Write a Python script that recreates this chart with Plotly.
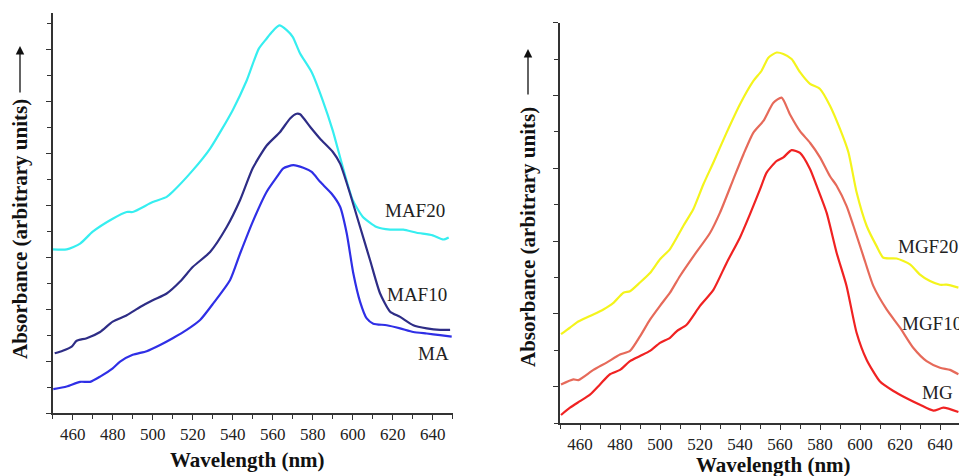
import plotly.graph_objects as go

# ---- Left panel data (wavelength nm, absorbance arbitrary units) ----
maf20_x = [450, 457, 463.7, 470, 480, 487, 490, 500, 507, 510, 520, 528.7, 540, 547, 553, 557, 559.5, 563.3, 567, 570, 573.7, 579.5, 585, 590, 595, 600, 605, 612, 618.7, 625.3, 632, 640, 645.3, 648]
maf20_y = [3.15, 3.15, 3.26, 3.49, 3.74, 3.87, 3.87, 4.06, 4.16, 4.26, 4.67, 5.09, 5.83, 6.40, 7.01, 7.21, 7.33, 7.46, 7.37, 7.24, 6.92, 6.56, 6.02, 5.44, 4.74, 4.10, 3.78, 3.58, 3.53, 3.53, 3.47, 3.42, 3.34, 3.38]

maf10_x = [451, 455, 459.5, 462, 467, 473.7, 480, 487, 493.7, 500, 507, 513.7, 520, 528.7, 537, 543.7, 550, 557, 563.7, 568.7, 572, 573.7, 578.7, 583.7, 590, 593.7, 598.7, 603.7, 608.7, 613.7, 618.7, 623.7, 630.3, 637, 643.7, 648.7]
maf10_y = [1.15, 1.20, 1.28, 1.39, 1.44, 1.56, 1.76, 1.88, 2.04, 2.17, 2.30, 2.53, 2.81, 3.10, 3.58, 4.10, 4.71, 5.15, 5.41, 5.67, 5.76, 5.75, 5.51, 5.28, 5.03, 4.80, 4.22, 3.58, 2.94, 2.30, 1.95, 1.85, 1.69, 1.63, 1.60, 1.60]

ma_x = [450.3, 457, 463.7, 468.7, 473.7, 480, 483.7, 490, 497, 503.7, 510, 517, 523.7, 530.3, 538.7, 543.7, 550, 557, 562, 565.3, 570.3, 575.3, 579.5, 583.7, 589.5, 593.7, 597, 600.3, 603.7, 607, 610.3, 617, 623.7, 630.3, 637, 643.7, 649.5]
ma_y = [0.46, 0.51, 0.60, 0.60, 0.70, 0.86, 0.99, 1.12, 1.19, 1.31, 1.44, 1.60, 1.79, 2.11, 2.56, 3.07, 3.68, 4.26, 4.54, 4.71, 4.77, 4.72, 4.64, 4.45, 4.22, 3.97, 3.46, 2.69, 2.14, 1.82, 1.72, 1.69, 1.63, 1.56, 1.53, 1.50, 1.47]

# ---- Right panel data ----
mgf20_x = [450.5, 455, 458.3, 465, 471.7, 476.7, 481.7, 485, 490, 495, 500, 505, 511.7, 516.7, 521.7, 526.7, 533.3, 540, 546.7, 550.8, 554.2, 558.3, 561.7, 565.8, 570, 575, 580, 585, 590, 594.2, 598.3, 603.3, 608.3, 611.7, 618.3, 625, 630, 635, 640, 643.3, 649.2]
mgf20_y = [1.72, 1.81, 1.88, 1.97, 2.06, 2.15, 2.29, 2.31, 2.43, 2.56, 2.75, 2.89, 3.21, 3.44, 3.78, 4.08, 4.49, 4.88, 5.20, 5.34, 5.52, 5.59, 5.57, 5.50, 5.32, 5.16, 5.09, 4.86, 4.54, 4.22, 3.67, 3.21, 2.93, 2.77, 2.76, 2.68, 2.54, 2.45, 2.40, 2.40, 2.36]

mgf10_x = [450.5, 456.7, 459.2, 466.7, 473.3, 480, 485, 490, 495, 500, 505, 510, 516.7, 525, 530, 536.7, 541.7, 546.7, 551.7, 556.7, 560.8, 565, 570, 575, 580, 585, 588.3, 593.3, 596.7, 601.7, 606.7, 613.3, 620, 626.7, 633.3, 640, 645, 649.2]
mgf10_y = [1.03, 1.10, 1.09, 1.23, 1.33, 1.44, 1.49, 1.69, 1.92, 2.11, 2.29, 2.52, 2.79, 3.11, 3.39, 3.85, 4.19, 4.49, 4.65, 4.90, 4.97, 4.74, 4.51, 4.35, 4.15, 3.89, 3.76, 3.48, 3.21, 2.79, 2.38, 2.06, 1.81, 1.53, 1.35, 1.26, 1.23, 1.17]

mg_x = [450.5, 455, 460, 465, 470, 475, 480, 485, 490, 495, 500, 505, 508.3, 513.3, 520, 526.7, 533.3, 540, 545, 550, 553.3, 558.3, 561.7, 565.8, 570, 575, 578.3, 583.3, 588.3, 593.3, 598.3, 603.3, 610, 616.7, 623.3, 630, 636.7, 641.7, 649.2]
mg_y = [0.61, 0.71, 0.80, 0.89, 1.03, 1.17, 1.23, 1.35, 1.42, 1.49, 1.60, 1.67, 1.76, 1.85, 2.11, 2.33, 2.70, 3.05, 3.37, 3.71, 3.94, 4.10, 4.15, 4.25, 4.21, 3.99, 3.76, 3.39, 2.84, 2.38, 1.74, 1.37, 1.07, 0.94, 0.84, 0.75, 0.67, 0.71, 0.65]

left_names = ["MAF20", "MAF10", "MA"]
right_names = ["MGF20", "MGF10", "MG"]
tick_vals = [460, 480, 500, 520, 540, 560, 580, 600, 620, 640]
tick_text = [str(v) for v in tick_vals]
x_title = "Wavelength (nm)"
y_title = "Absorbance (arbitrary units)"

PAGE_W, PAGE_H = 967, 476
OFF = 8  # default page body margin
W, H = PAGE_W - OFF, PAGE_H - OFF
SERIF = "Liberation Serif, Times New Roman, serif"

fig = go.Figure()
left_series = [(maf20_x, maf20_y, "#36eef0"), (maf10_x, maf10_y, "#2e2d86"), (ma_x, ma_y, "#2f2fe6")]
right_series = [(mgf20_x, mgf20_y, "#f4f41c"), (mgf10_x, mgf10_y, "#e66a5a"), (mg_x, mg_y, "#f02222")]
for (xs, ys, c), n in zip(left_series, left_names):
    fig.add_trace(go.Scatter(x=xs, y=ys, mode="lines", name=n, line=dict(color=c, width=2.2, smoothing=0.6),
                             xaxis="x", yaxis="y", line_shape="spline"))
for (xs, ys, c), n in zip(right_series, right_names):
    fig.add_trace(go.Scatter(x=xs, y=ys, mode="lines", name=n, line=dict(color=c, width=2.2, smoothing=0.6),
                             xaxis="x2", yaxis="y2", line_shape="spline"))

def px_x(p):
    return (p - OFF) / W

def px_y(p):
    return 1 - (p - OFF) / H

common_x = dict(range=[450, 650], tickmode="array", tickvals=tick_vals, ticktext=tick_text,
                ticks="outside", ticklen=5, tickwidth=1.3, tickcolor="#333",
                showline=True, linecolor="#333", linewidth=1.5, showgrid=False, zeroline=False,
                tickfont=dict(family=SERIF, size=17, color="#222"),
                minor=dict(dtick=10, tick0=450, ticks="outside", ticklen=4, tickcolor="#333", showgrid=False))
common_y = dict(showticklabels=False, ticks="outside", ticklen=5, tickwidth=1.3, tickcolor="#333",
                showline=True, linecolor="#333", linewidth=1.5, showgrid=False, zeroline=False,
                dtick=1, tick0=0,
                minor=dict(dtick=0.5, tick0=0, ticks="outside", ticklen=4, tickcolor="#333", showgrid=False))

fig.update_layout(
    width=W, height=H,
    margin=dict(l=0, r=0, t=0, b=0),
    paper_bgcolor="white", plot_bgcolor="white",
    showlegend=False,
    xaxis=dict(domain=[px_x(52.7), px_x(452.7)], anchor="y", **common_x),
    yaxis=dict(domain=[px_y(413), px_y(13)], anchor="x", range=[0, 7.7], **common_y),
    xaxis2=dict(domain=[px_x(560), px_x(960)], anchor="y2", **common_x),
    yaxis2=dict(domain=[px_y(423), px_y(22.7)], anchor="x2", range=[0.5, 6.0], **common_y),
)

annotations = []
# curve labels
lab_font = dict(family=SERIF, size=19, color="#222")
for name, (x, y) in zip(left_names, [(415, 210), (417, 294), (433, 353)]):
    annotations.append(dict(text=name, x=px_x(x), y=px_y(y), xref="paper", yref="paper",
                            showarrow=False, font=lab_font, xanchor="center", yanchor="middle"))
for name, (x, y) in zip(right_names, [(928, 247), (932, 323), (937, 392)]):
    annotations.append(dict(text=name, x=px_x(x), y=px_y(y), xref="paper", yref="paper",
                            showarrow=False, font=lab_font, xanchor="center", yanchor="middle"))

title_font = dict(family=SERIF, size=21, color="#111")
# x titles
annotations.append(dict(text="<b>%s</b>" % x_title, x=px_x(247), y=px_y(460), xref="paper", yref="paper",
                        showarrow=False, font=title_font, xanchor="center", yanchor="middle"))
annotations.append(dict(text="<b>%s</b>" % x_title, x=px_x(773), y=px_y(465), xref="paper", yref="paper",
                        showarrow=False, font=title_font, xanchor="center", yanchor="middle"))
# y titles
annotations.append(dict(text="<b>%s</b>" % y_title, x=px_x(20), y=px_y(229), xref="paper", yref="paper",
                        showarrow=False, font=title_font, textangle=-90, xanchor="center", yanchor="middle"))
annotations.append(dict(text="<b>%s</b>" % y_title, x=px_x(528), y=px_y(237), xref="paper", yref="paper",
                        showarrow=False, font=title_font, textangle=-90, xanchor="center", yanchor="middle"))
# arrows next to y titles (head position, tail offset in pixels)
for (ax_x, head_y, tail_y) in [(20, 46, 94), (528, 49, 96)]:
    annotations.append(dict(text="", x=px_x(ax_x), y=px_y(head_y), xref="paper", yref="paper",
                            ax=0, ay=tail_y - head_y, axref="pixel", ayref="pixel",
                            showarrow=True, arrowhead=2, arrowsize=1.3, arrowwidth=1.3, arrowcolor="#111"))

fig.update_layout(annotations=annotations)
fig.write_html("out.html")
